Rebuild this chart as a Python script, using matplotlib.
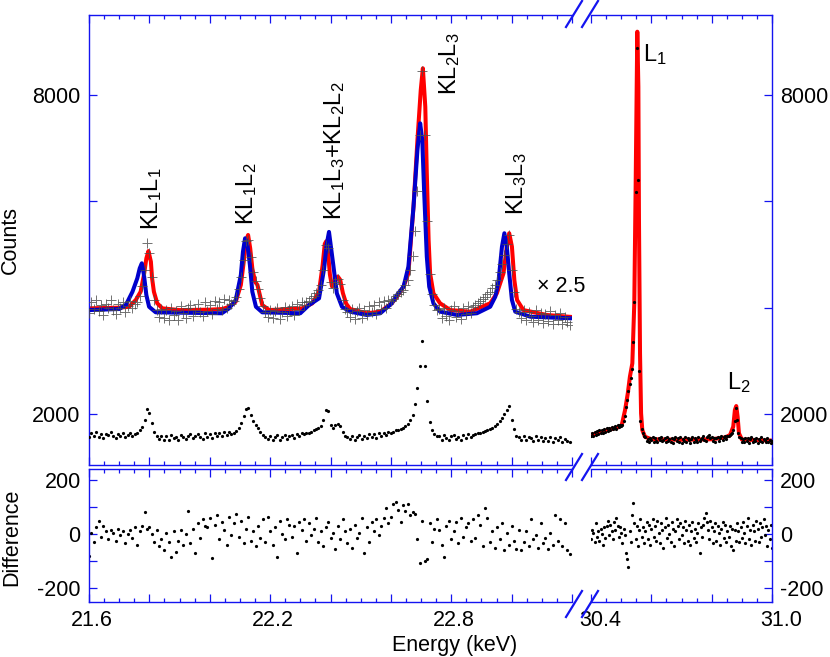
import numpy as np
import matplotlib
matplotlib.use("Agg")
import matplotlib.pyplot as plt
from matplotlib.ticker import MultipleLocator, FixedLocator, FuncFormatter
from matplotlib.lines import Line2D
from matplotlib.transforms import ScaledTranslation

plt.rcParams['font.family'] = ['Liberation Sans', 'DejaVu Sans']
plt.rcParams['mathtext.fontset'] = 'custom'
plt.rcParams['mathtext.rm'] = 'Liberation Sans'
plt.rcParams['mathtext.it'] = 'Liberation Sans:italic'
plt.rcParams['mathtext.bf'] = 'Liberation Sans:bold'
plt.rcParams['axes.unicode_minus'] = False
plt.rcParams['font.size'] = 15.5

# ---- measured spectrum, KL hypersatellite region (channel step 0.008 keV from 21.600)
counts_left = [
    1560, 1640, 1590, 1655, 1575, 1620, 1545, 1630, 1600, 1660, 1580, 1550, 1625, 1595, 1645, 1570, 1610, 1650, 1595,
    1625, 1645, 1690, 1760, 1880, 2090, 2010, 1830, 1660, 1585,
    1530, 1590, 1520, 1585, 1505, 1600, 1545, 1575, 1510, 1610, 1560, 1525, 1595, 1620, 1540, 1580, 1630, 1565, 1535,
    1640, 1575, 1620, 1550, 1650, 1590, 1640, 1585, 1665, 1600, 1660, 1625,
    1650, 1680, 1740, 1830, 1960, 2100, 2110, 1980, 1870, 1800, 1740, 1670, 1610, 1570,
    1530, 1585, 1520, 1575, 1600, 1515, 1565, 1605, 1535, 1590, 1610, 1545, 1625, 1580, 1640, 1620,
    1640, 1650, 1670, 1690, 1710, 1730, 1770, 1880, 2070, 2050, 1790, 1745, 1790, 1815, 1780, 1660, 1590, 1565,
    1530, 1590, 1515, 1575, 1600, 1525, 1580, 1545, 1615, 1570, 1620, 1555, 1640, 1590, 1650, 1600, 1655,
    1650, 1662, 1690, 1700, 1718, 1735, 1770, 1810, 1880, 1990, 2180, 2480, 2900, 3380, 2900, 2250, 1850, 1700, 1620, 1580,
    1590, 1520, 1600, 1540, 1510, 1585, 1610, 1530, 1575, 1515, 1600, 1550, 1615, 1560, 1605,
    1620, 1635, 1650, 1665, 1680, 1700, 1720, 1745, 1770, 1810, 1870, 1930, 2000, 2080, 2150, 1880, 1720, 1590, 1565,
    1520, 1585, 1505, 1570, 1540, 1495, 1580, 1510, 1560, 1485, 1550, 1500, 1575, 1480, 1545, 1505, 1560, 1475, 1530,
    1495, 1470,
]
diff_left = [
    -80, 5, -30, 25, 50, -10, 30, 10, -20, 15, 5, -25, 20, -5, 10, -35, 0, 15, -15,
    25, -40, 10, 30, 80, 20, 25, 0, -30, 15,
    -45, -20, -60, 5, -30, -85, 10, -65, -25, 15, -40, 0, 85, -35, 20, -70, 40, -15, 55, 30,
    25, 60, -90, 35, 70, -20, 45, 15, -40, 65, -5,
    40, 75, -10, 50, -35, 20, 65, -25, 10, -45, 30, -15, 55, -30,
    65, 10, -40, 25, -85, 50, 0, -20, 55, 35, -10, 30, -70, 45, 15, 55,
    -25, 40, -5, 20, 60, -30, 10, -45, 25, 45, -15, 5, -55, 30, -20, 55, 10, -35,
    20, -50, 35, -15, 5, 60, -70, 25, -30, 45, 10, 55, -5, 30, 60, 95, 40,
    65, 110, 120, 90, 45, 108, 85, 110, 70, 80, 75, -20, -108, 50, -100, -94, 40, -30, 20, 55,
    15, -40, -86, 30, 50, -20, 10, 45, -35, 60, -10, 25, 40, -25, 55,
    -15, 70, 35, -45, 95, 60, -30, 10, -50, 25, -20, 40, -60, 5, -40, 30, -25, -55, 15,
    -60, -30, 10, -45, 55, -20, -5, -50, 40, -35, -15, -55, 5, -40, 70, -25, 55, -45, 40, -60,
    -75,
]
energy_left = 21.600 + 0.008 * np.arange(len(counts_left))

# fit (red) and calculation (blue), raw counts; drawn x2.5
red_left_energy = [
    21.600, 21.700, 21.733, 21.755, 21.771, 21.782, 21.790, 21.797, 21.805, 21.809,
    21.815, 21.826, 21.843, 21.900, 22.000, 22.042, 22.064, 22.086, 22.103, 22.114,
    22.119, 22.127, 22.134, 22.141, 22.150, 22.158, 22.166, 22.174, 22.197, 22.307,
    22.340, 22.362, 22.374, 22.381, 22.386, 22.392, 22.398, 22.405, 22.414, 22.424,
    22.432, 22.441, 22.452, 22.465, 22.520, 22.565, 22.603, 22.620, 22.642, 22.658,
    22.675, 22.688, 22.699, 22.706, 22.714, 22.719, 22.725, 22.730, 22.741, 22.763,
    22.797, 22.863, 22.929, 22.951, 22.973, 22.984, 22.992, 23.001, 23.009, 23.018,
    23.039, 23.117, 23.200,
]
red_left_counts = [
    1595, 1600, 1607, 1658, 1720, 1846, 1971, 2026, 1946, 1821,
    1720, 1633, 1595, 1582, 1585, 1590, 1607, 1645, 1771, 1971,
    2096, 2147, 2047, 1896, 1796, 1771, 1695, 1620, 1582, 1595,
    1633, 1720, 1921, 2080, 2100, 2010, 1850, 1760, 1790, 1835,
    1810, 1710, 1630, 1590, 1558, 1570, 1633, 1683, 1758, 1858,
    2360, 2861, 3238, 3401, 3112, 2611, 2109, 1858, 1708, 1633,
    1582, 1570, 1633, 1708, 1858, 2059, 2160, 2059, 1808, 1658,
    1582, 1545, 1530,
]
blue_left_energy = [
    21.600, 21.700, 21.722, 21.744, 21.760, 21.768, 21.775, 21.782, 21.790, 21.799,
    21.821, 22.040, 22.064, 22.086, 22.103, 22.110, 22.117, 22.125, 22.133, 22.141,
    22.153, 22.174, 22.300, 22.329, 22.362, 22.379, 22.387, 22.395, 22.410, 22.421,
    22.438, 22.465, 22.520, 22.565, 22.603, 22.620, 22.642, 22.658, 22.675, 22.688,
    22.697, 22.704, 22.710, 22.719, 22.727, 22.741, 22.763, 22.819, 22.885, 22.929,
    22.946, 22.957, 22.968, 22.976, 22.984, 22.992, 23.001, 23.012, 23.062, 23.200,
]
blue_left_counts = [
    1582, 1590, 1620, 1720, 1821, 1896, 1934, 1846, 1695, 1607,
    1565, 1558, 1595, 1658, 1846, 2021, 2122, 2072, 1921, 1720,
    1607, 1565, 1558, 1620, 1670, 1896, 2072, 2170, 1908, 1708,
    1607, 1570, 1545, 1558, 1633, 1695, 1758, 1908, 2360, 2787,
    2987, 2861, 2485, 1984, 1758, 1633, 1570, 1545, 1558, 1607,
    1683, 1808, 2059, 2160, 2059, 1858, 1658, 1570, 1532, 1520,
]

# ---- diagram lines L1, L2 (channel step 0.004 keV from 30.400)
counts_right = [
    1580, 1640, 1595, 1660, 1610, 1675, 1625, 1690, 1640, 1705, 1650, 1720, 1670, 1735, 1680, 1745, 1700, 1760,
    1715, 1740, 1770, 1725, 1790, 1750, 1785, 1770,
    1800, 1860, 1960, 2130, 2270, 2440, 2560, 2680, 2850, 3360, 4100, 6170, 8880, 6400, 2815, 1870, 1720, 1640, 1590,
    1560, 1495, 1530, 1475, 1545, 1505, 1570, 1480, 1555, 1500,
    1465, 1540, 1510, 1575, 1490, 1520, 1555, 1470, 1565, 1500,
    1535, 1480, 1550, 1460, 1525, 1560, 1490, 1545, 1475, 1570,
    1455, 1530, 1495, 1560, 1470, 1540, 1515, 1450, 1525, 1565,
    1480, 1545, 1505, 1470, 1560, 1500, 1525, 1550, 1580, 1520,
    1495, 1570, 1590, 1610, 1555, 1575, 1500, 1545, 1480, 1540,
    1575, 1500, 1555, 1585, 1510, 1560, 1595, 1535, 1590,
    1590, 1600, 1615, 1640, 1700, 1860, 2120, 1890, 1640, 1560,
    1545, 1480, 1530, 1465, 1555, 1490, 1540, 1455, 1525, 1565,
    1470, 1535, 1485, 1550, 1460, 1530, 1495, 1560, 1465, 1525,
    1505, 1470, 1545, 1480, 1520, 1455, 1500,
]
diff_right = [
    -20, 15, 5, -30, 40, -10, 10, -25, 20, 0, -40, 25, -15, 30, 50, -5, 35, 10, -20, 45, 15, 60, 30, -10, 25, 5,
    -35, 20, -5, -70, -94, -121, 10, -30, 70, 116, 40, -20, 30, -45, 15, 55, -10, 25, -35,
    10, 45, -20, 35, -40, 20, 55, -10, 30, -25,
    50, 5, -35, 40, 15, -50, 25, 60, -15, 35,
    0, -30, 45, 20, -45, 10, 55, 30, -20, 40,
    -5, 25, -35, 50, 15, -25, 35, -40, 10, 45,
    -15, 20, -30, 5, 40, -72, 25, -10, 35, 60,
    77, 45, 15, -20, 50, 25, -35, 10, 40, -25,
    30, 5, -40, 20, 45, -15, 35, -30, 10,
    -10, 30, -45, 20, -60, 15, -25, 40, 10, -30,
    25, -15, 45, 5, -35, 30, 60, -20, 15, -40,
    35, 10, -25, 50, 20, -30, 40, -10, 25, 55,
    -5, 30, -45, 15, -20, 35, -50,
]
energy_right = 30.400 + 0.004 * np.arange(len(counts_right))

red_right_energy = [
    30.400, 30.450, 30.490, 30.502, 30.513, 30.522, 30.529, 30.537, 30.5435, 30.548,
    30.5515, 30.5535, 30.557, 30.559, 30.5625, 30.566, 30.570, 30.579, 30.600, 30.700,
    30.800, 30.845, 30.861, 30.8715, 30.877, 30.8815, 30.886, 30.8905, 30.900, 31.000,
]
red_right_counts = [
    1605, 1690, 1750, 1793, 2075, 2389, 2702, 2953, 4082, 6276,
    8157, 9191, 8157, 5650, 3142, 2013, 1699, 1573, 1525, 1515,
    1525, 1560, 1605, 1762, 2075, 2150, 1950, 1637, 1520, 1500,
]

scale = 2.5
AXIS_BLUE = '#1414f0'
RED = '#ff0000'
BLUE = '#0000cc'

W, H = 830, 657
fig = plt.figure(figsize=(W / 100, H / 100), dpi=100)


def px_axes(x0, y0, x1, y1):
    return fig.add_axes([x0 / W, 1 - y1 / H, (x1 - x0) / W, (y1 - y0) / H])


def style(ax, xlim, ylim, yticks, ylabels, side, xlabels):
    ax.set_xlim(xlim)
    ax.set_ylim(ylim)
    for s in ax.spines.values():
        s.set_color(AXIS_BLUE)
        s.set_linewidth(1.0)
    ax.spines['right' if side == 'left' else 'left'].set_visible(False)
    ax.xaxis.set_major_locator(MultipleLocator(0.2))
    ax.xaxis.set_minor_locator(MultipleLocator(0.05))
    ax.xaxis.set_major_formatter(FuncFormatter(
        lambda v, p: f'{v:.1f}' if any(abs(v - t) < 1e-6 for t in xlabels) else ''))
    ax.yaxis.set_major_locator(FixedLocator(yticks))
    ax.yaxis.set_major_formatter(FuncFormatter(
        lambda v, p: f'{v:.0f}' if any(abs(v - t) < 1e-6 for t in ylabels) else ''))
    ax.tick_params(which='both', direction='in', color=AXIS_BLUE, width=0.9, pad=6)
    ax.tick_params(which='major', length=6)
    ax.tick_params(which='minor', length=3)
    ax.tick_params(axis='x', which='both', top=True, bottom=True, labelbottom=bool(xlabels))
    if side == 'left':
        ax.tick_params(axis='y', left=True, right=False, labelleft=True, labelright=False)
    else:
        ax.tick_params(axis='y', left=False, right=True, labelleft=False, labelright=True)


ax_tl = px_axes(89, 15, 572, 465)
ax_tr = px_axes(591, 15, 772, 465)
ax_bl = px_axes(89, 468.5, 572, 602)
ax_br = px_axes(591, 468.5, 772, 602)

top_lim = (1041, 9505)
diff_lim = (-252, 243)
style(ax_tl, (21.6, 23.2), top_lim, [2000, 4000, 6000, 8000], [2000, 8000], 'left', [])
style(ax_tr, (30.4, 31.0), top_lim, [2000, 4000, 6000, 8000], [2000, 8000], 'right', [])
style(ax_bl, (21.6, 23.2), diff_lim, [-200, -100, 0, 100, 200], [-200, 0, 200], 'left', [21.6, 22.2, 22.8])
style(ax_br, (30.4, 31.0), diff_lim, [-200, -100, 0, 100, 200], [-200, 0, 200], 'right', [30.4, 31.0])

# the energy labels sit a little to the right of their ticks in the original
for ax, dx in ((ax_bl, 3), (ax_br, 9)):
    for lab in ax.get_xticklabels():
        lab.set_transform(lab.get_transform() + ScaledTranslation(dx / 100, 0, fig.dpi_scale_trans))

dot = dict(ls='none', marker='o', ms=2.3, mew=0, color='k')

ax_tl.plot(red_left_energy, scale * np.array(red_left_counts), color=RED, lw=2.9, zorder=2)
ax_tl.plot(blue_left_energy, scale * np.array(blue_left_counts), color=BLUE, lw=2.9, zorder=3)
ax_tl.plot(energy_left, scale * np.array(counts_left), ls='none', marker='+', ms=7, mew=0.7,
           color='0.3', alpha=0.8, zorder=4)
ax_tl.plot(energy_left, counts_left, zorder=5, **dot)

ax_tr.plot(red_right_energy, red_right_counts, color=RED, lw=2.9, zorder=2)
ax_tr.plot(energy_right, counts_right, zorder=5, **dot)

ax_bl.plot(energy_left, diff_left, **dot)
ax_br.plot(energy_right, diff_right, **dot)

# peak labels
for x, y, s in [(21.806, 5461, 'KL$_1$L$_1$'),
                (22.122, 5555, 'KL$_1$L$_2$'),
                (22.412, 5649, 'KL$_1$L$_3$+KL$_2$L$_2$'),
                (22.793, 8000, 'KL$_2$L$_3$'),
                (23.015, 5743, 'KL$_3$L$_3$')]:
    ax_tl.text(x, y, s, rotation=90, ha='center', va='bottom', fontsize=17)
ax_tl.text(23.085, 4389, '\u00d7 2.5', ha='left', va='center', fontsize=15.5)
ax_tr.text(30.572, 8997, 'L$_1$', ha='left', va='top', fontsize=17)
ax_tr.text(30.851, 2828, 'L$_2$', ha='left', va='top', fontsize=17)

fig.text(10 / W, 1 - 240 / H, 'Counts', rotation=90, ha='center', va='center')
fig.text(12 / W, 1 - 537 / H, 'Difference', rotation=90, ha='center', va='center')
fig.text(455 / W, 1 - 645 / H, 'Energy (keV)', ha='center', va='center')

# axis break marks
for yc in (14, 467, 604):
    for xc in (574, 590):
        fig.add_artist(Line2D([(xc - 8) / W, (xc + 8) / W], [1 - (yc + 13) / H, 1 - (yc - 13) / H],
                              color=AXIS_BLUE, lw=1.6, transform=fig.transFigure))

fig.savefig('out.png', dpi=100)
